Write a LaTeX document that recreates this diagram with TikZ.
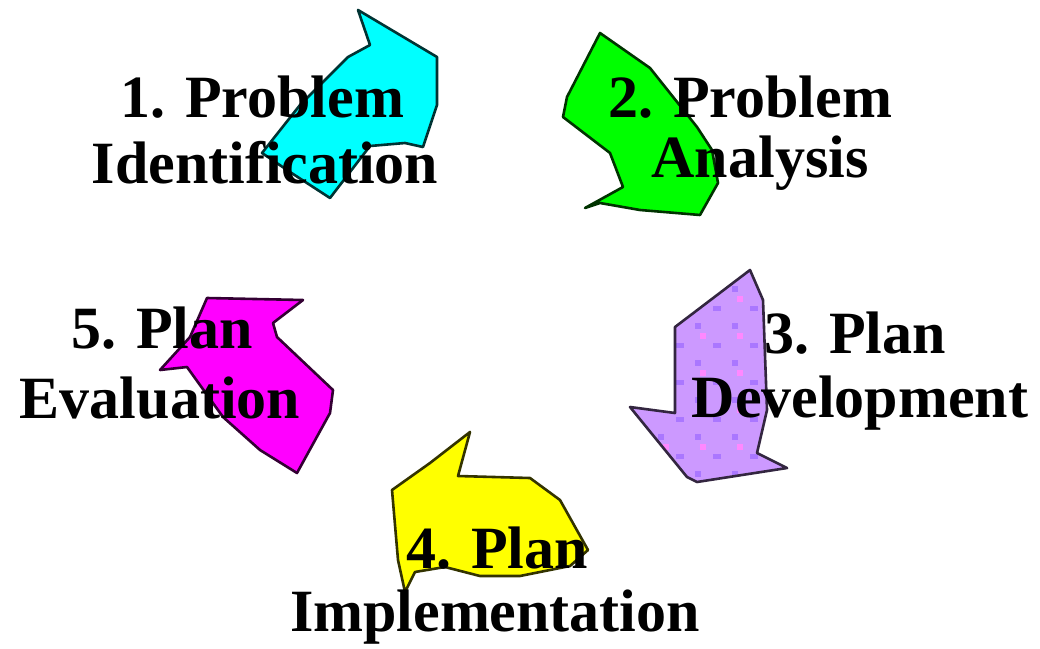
\documentclass[tikz,border=0pt]{standalone}
\usepackage{fontspec}
\setmainfont{Liberation Serif}
\begin{document}
\begin{tikzpicture}[x=1pt,y=-1pt,
  arrowshape/.style={line width=2.6pt, line join=round},
  lbl/.style={inner sep=0pt, text=black, font=\fontsize{60}{70}\selectfont\bfseries}]
\definecolor{cy}{HTML}{00FFFF}
\definecolor{gr}{HTML}{00FF00}
\definecolor{pu}{HTML}{CC99FF}
\definecolor{ye}{HTML}{FFFF00}
\definecolor{ma}{HTML}{FF00FF}
\definecolor{pk}{HTML}{FF88FF}
\definecolor{vi}{HTML}{AA77FF}
\useasboundingbox (0,0) rectangle (1040,648);
\fill[white] (0,0) rectangle (1040,648);
% cyan arrow
\draw[arrowshape, fill=cy, draw=cy!20!black] (358,10) -- (437,57) -- (437,105) -- (423,147) -- (405,143) -- (370,146) -- (330,198) -- (290,172) -- (262,153) -- (300,105) -- (348,57) -- (370,45) -- cycle;
% green arrow
\draw[arrowshape, fill=gr, draw=gr!20!black] (600,33) -- (650,68) -- (697,127) -- (712,150) -- (718,183) -- (700,215) -- (640,210) -- (600,203) -- (585,208) -- (623,187) -- (610,153) -- (563,117) -- (567,97) -- cycle;
% purple arrow
\begin{scope}
\path[clip] (750,270) -- (763,300) -- (767,410) -- (757,453) -- (787,468) -- (697,482) -- (687,477) -- (630,407) -- (675,413) -- (675,327) -- cycle;
\fill[pu] (620,260) rectangle (800,490);
\foreach \i in {0,...,4} \foreach \j in {0,...,5} {
  \fill[pk] ({663+37*\i},{296+37*\j}) rectangle +(6,6);
  \fill[vi] ({658+37*\i},{286+37*\j}) rectangle +(6,6);
  \fill[vi] ({676+37*\i},{306+37*\j}) rectangle +(8,5);
}
\end{scope}
\draw[arrowshape, draw=pu!25!black] (750,270) -- (763,300) -- (767,410) -- (757,453) -- (787,468) -- (697,482) -- (687,477) -- (630,407) -- (675,413) -- (675,327) -- cycle;
% yellow arrow
\draw[arrowshape, fill=ye, draw=ye!20!black] (470,432) -- (458,476) -- (530,478) -- (560,500) -- (588,550) -- (570,566) -- (520,576) -- (480,576) -- (445,567) -- (415,572) -- (405,592) -- (398,560) -- (392,490) -- (430,463) -- cycle;
% magenta arrow
\draw[arrowshape, fill=ma, draw=ma!20!black] (207,298) -- (303,300) -- (273,323) -- (277,337) -- (333,390) -- (330,413) -- (297,473) -- (260,450) -- (223,417) -- (187,367) -- (160,370) -- (190,337) -- cycle;
% labels
\node[lbl] (l1a) at (262,97) {1. Problem};
\node[lbl] (l1b) at (265,163) {Identification};
\node[lbl] (l2a) at (750,97) {2. Problem};
\node[lbl] (l2b) at (760,163) {Analysis};
\node[lbl] (l3a) at (855,333) {3. Plan};
\node[lbl] (l3b) at (860,403) {Development};
\node[lbl] (l4a) at (497,548) {4. Plan};
\node[lbl] (l4b) at (495,617) {Implementation};
\node[lbl] (l5a) at (162,328) {5. Plan};
\node[lbl] (l5b) at (160,398) {Evaluation};
\end{tikzpicture}
\end{document}
